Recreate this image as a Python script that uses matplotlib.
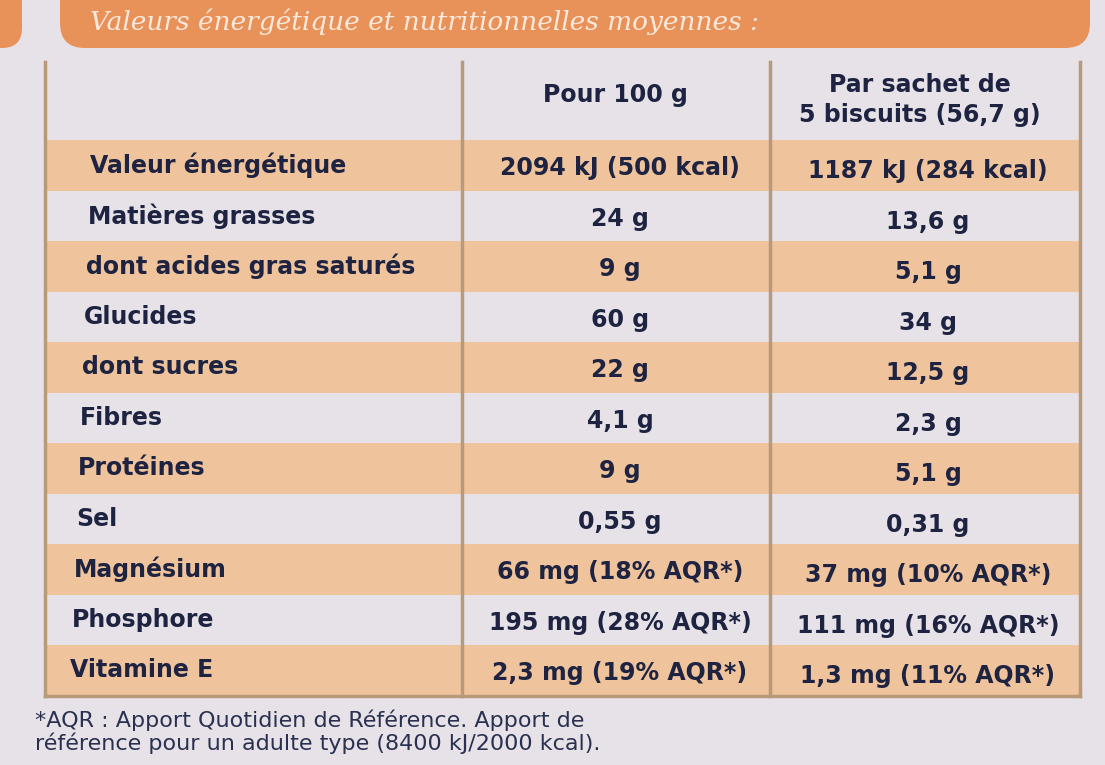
import matplotlib.pyplot as plt
from matplotlib.patches import Rectangle, FancyBboxPatch

title = "Valeurs énergétique et nutritionnelles moyennes :"
col_headers = ["Pour 100 g", "Par sachet de\n5 biscuits (56,7 g)"]
nutrients = ["Valeur énergétique", "Matières grasses", "dont acides gras saturés",
             "Glucides", "dont sucres", "Fibres", "Protéines", "Sel",
             "Magnésium", "Phosphore", "Vitamine E"]
per_100g = ["2094 kJ (500 kcal)", "24 g", "9 g", "60 g", "22 g", "4,1 g", "9 g",
            "0,55 g", "66 mg (18% AQR*)", "195 mg (28% AQR*)", "2,3 mg (19% AQR*)"]
per_sachet = ["1187 kJ (284 kcal)", "13,6 g", "5,1 g", "34 g", "12,5 g", "2,3 g",
              "5,1 g", "0,31 g", "37 mg (10% AQR*)", "111 mg (16% AQR*)", "1,3 mg (11% AQR*)"]
footnote = "*AQR : Apport Quotidien de Référence. Apport de\nréférence pour un adulte type (8400 kJ/2000 kcal)."

bg = "#e6e2e8"
peach = "#efc39c"
orange = "#e8925a"
ink = "#1d2340"
line = "#b89a7a"

fig = plt.figure(figsize=(11.05, 7.65), dpi=100)
fig.patch.set_facecolor(bg)
ax = fig.add_axes([0, 0, 1, 1])
ax.set_xlim(0, 1105)
ax.set_ylim(765, 0)
ax.axis("off")

# banner
ax.add_patch(FancyBboxPatch((60, -30), 1030, 78, boxstyle="round,pad=0,rounding_size=25",
                            fc=orange, ec="none"))
ax.add_patch(FancyBboxPatch((-30, -30), 52, 78, boxstyle="round,pad=0,rounding_size=20",
                            fc=orange, ec="none"))
ax.text(90, 22, title, color="#fbe9dc", fontsize=19, style="italic",
        family="DejaVu Serif", va="center")

x0, x1, x2, x3 = 45, 462, 770, 1080
top, y0, rh = 62, 140, 50.5
for i, (n, a, b) in enumerate(zip(nutrients, per_100g, per_sachet)):
    y = y0 + i * rh
    if i % 2 == 0:
        ax.add_patch(Rectangle((x0, y), x3 - x0, rh, fc=peach, ec="none"))
    ax.text(90 - i * 2, y + rh / 2, n, color=ink, fontsize=17, fontweight="bold", va="center")
    ax.text(620, y + rh / 2 + 3, a, color=ink, fontsize=17, fontweight="bold",
            va="center", ha="center")
    ax.text(928, y + rh / 2 + 6, b, color=ink, fontsize=17, fontweight="bold",
            va="center", ha="center")

bottom = y0 + len(nutrients) * rh
for x in (x0, x1, x2, x3):
    ax.plot([x, x], [top, bottom], color=line, lw=2.5)
ax.plot([x0, x3], [bottom, bottom], color=line, lw=2.5)

ax.text(615, 95, col_headers[0], color=ink, fontsize=17, fontweight="bold",
        va="center", ha="center")
ax.text(920, 100, col_headers[1], color=ink, fontsize=17, fontweight="bold",
        va="center", ha="center", linespacing=1.3)

ax.text(35, 732, footnote, color="#2a3150", fontsize=16, va="center", linespacing=1.1)

fig.savefig("out.png", dpi=100, facecolor=bg)
